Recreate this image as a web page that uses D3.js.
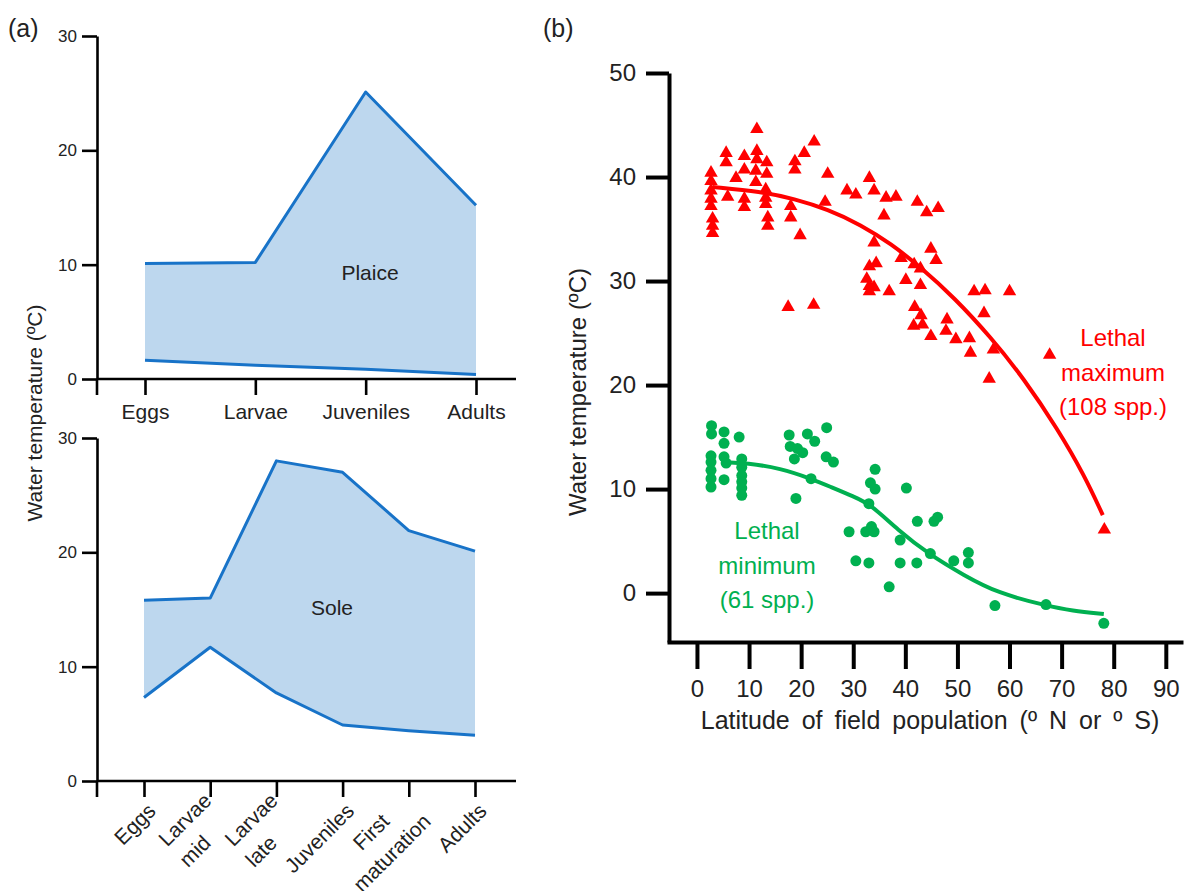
<!DOCTYPE html>
<html>
<head>
<meta charset="utf-8">
<title>Thermal tolerance of fish</title>
<style>
  body { margin: 0; background: #fff; }
  svg { font-family: Arial, "Liberation Sans", sans-serif; }
  text { fill: #222; }
</style>
</head>
<body>
<svg id="fig" width="1190" height="891"></svg>
<script src="https://d3js.org/d3.v7.min.js"></script>
<script>
// ---- panel (a) data: tolerance range per life stage (deg C)
var plaiceStages = ["Eggs", "Larvae", "Juveniles", "Adults"];
var plaiceUpper = [10.1, 10.2, 25.1, 15.2];
var plaiceLower = [1.65, 1.2, 0.85, 0.4];

var soleStages = ["Eggs", "Larvae mid", "Larvae late", "Juveniles", "First maturation", "Adults"];
var soleUpper = [15.8, 16.0, 28.0, 27.0, 21.9, 20.1];
var soleLower = [7.3, 11.7, 7.7, 4.9, 4.4, 4.0];

var tempTicksA = [0, 10, 20, 30];

// ---- panel (b) data: [latitude, temperature]
var maxPoints = [
  [11.5,44.6],[22.5,43.4],[20.6,42.3],[18.8,41.5],[18.8,40.7],[5.6,42.3],[5.6,41.4],[9.1,42.0],
  [11.5,42.5],[11.5,41.7],[13.4,41.4],[13.4,40.3],[9.1,40.7],[7.5,39.9],[11.3,40.6],[11.3,39.5],
  [2.7,40.4],[2.7,39.6],[2.7,38.7],[2.7,37.9],[2.7,37.2],[3.0,36.0],[3.0,35.3],[3.0,34.6],
  [5.9,38.1],[9.1,37.9],[9.1,37.1],[13.2,38.8],[13.2,38.0],[13.2,37.4],[13.6,36.1],[13.6,35.3],
  [18.0,37.2],[18.0,36.1],[19.8,34.4],[25.1,40.3],[24.6,37.6],[17.5,27.5],[22.4,27.7],
  [28.8,38.7],[30.5,38.3],[33.1,39.9],[34.0,38.7],[36.3,38.0],[35.9,36.3],[34.0,33.7],[33.1,31.4],
  [34.4,31.7],[32.6,30.2],[33.1,29.5],[34.0,29.4],[36.9,29.0],
  [38.2,38.1],[42.3,37.6],[44.1,36.6],[46.3,37.0],[44.9,33.1],[45.9,32.0],[39.2,32.2],[41.7,31.6],
  [42.9,31.2],[33.1,29.0],[40.1,30.1],[42.9,29.6],[41.8,27.5],[43.0,26.7],[41.6,25.7],[43.3,25.8],
  [44.9,24.7],[48.0,26.3],[47.8,25.2],[49.7,24.4],[52.3,24.5],[52.5,23.1],[53.2,29.0],[55.3,29.1],
  [55.1,26.9],[56.9,23.4],[56.1,20.6],[60.0,29.0],[67.7,22.9],[78.2,6.1]
];
var maxCurve = [
  [3,39.05],[12.3,38.6],[18.7,37.9],[25.1,36.9],[31.5,35.4],[37.2,33.6],[43,31.3],
  [49.4,28.4],[56.4,24.6],[62.8,20.6],[69.2,15.8],[74.4,11.3],[77.9,7.5]
];
var minPoints = [
  [2.8,16.1],[2.8,15.3],[5.2,15.5],[8.1,15.0],[5.2,14.4],[2.7,13.2],[2.7,12.6],[2.7,11.8],
  [2.7,11.0],[2.7,10.2],[5.2,13.1],[5.6,12.5],[5.2,10.9],[8.6,12.9],[8.6,12.1],[8.6,11.3],
  [8.6,10.7],[8.6,10.1],[8.6,9.4],[17.7,15.2],[17.9,14.1],[21.2,15.3],[22.6,14.6],[24.9,15.9],
  [19.3,13.9],[20.3,13.5],[18.7,12.9],[24.8,13.1],[26.2,12.6],[21.9,11.0],[19.0,9.1],
  [34.2,11.9],[33.3,10.6],[34.2,10.0],[33.0,8.6],[40.2,10.1],[29.2,5.9],[32.4,5.9],[33.5,6.4],
  [34.0,5.9],[30.5,3.1],[33.0,2.9],[36.9,0.6],[39.0,5.1],[39.0,2.9],[42.2,2.9],[42.3,6.9],
  [44.8,3.8],[45.5,6.9],[46.2,7.3],[49.3,3.1],[52.1,3.9],[52.1,2.9],[57.2,-1.2],[67.0,-1.1],
  [78.1,-2.9]
];
var minCurve = [
  [4.8,12.6],[9.7,12.5],[16,12.0],[21.9,11.0],[25.7,10.2],[30,9.3],[33.4,8.5],[38.5,6.1],
  [44.6,3.7],[51.3,1.7],[57.7,0.0],[67,-1.2],[72,-1.7],[78.1,-2.0]
];
var latTicks = [0, 10, 20, 30, 40, 50, 60, 70, 80, 90];
var tempTicksB = [0, 10, 20, 30, 40, 50];

var blueLine = "#1873c8", blueFill = "#bdd7ee";
var red = "#ff0000", green = "#00b050";

var svg = d3.select("#fig");

// ---------- panel (a) ----------
function rangePanel(stages, upper, lower, xs, ys, name, nx, ny) {
  var g = svg.append("g");
  var rows = stages.map(function(s, i) { return {stage: s, hi: upper[i], lo: lower[i]}; });

  g.append("path").datum(rows)
    .attr("fill", blueFill)
    .attr("d", d3.area().x(function(d) { return xs(d.stage); })
      .y0(function(d) { return ys(d.lo); })
      .y1(function(d) { return ys(d.hi); }));
  ["hi", "lo"].forEach(function(k) {
    g.append("path").datum(rows)
      .attr("fill", "none").attr("stroke", blueLine).attr("stroke-width", 3)
      .attr("stroke-linejoin", "round")
      .attr("d", d3.line().x(function(d) { return xs(d.stage); })
        .y(function(d) { return ys(d[k]); }));
  });

  g.append("text").attr("x", nx).attr("y", ny).attr("text-anchor", "middle")
    .style("font-size", "21px").text(name);

  var yAx = g.append("g").attr("transform", "translate(97,0)")
    .call(d3.axisLeft(ys).tickValues(tempTicksA).tickSize(15).tickSizeOuter(0).tickPadding(5));
  yAx.selectAll("text").style("font-size", "17px").attr("fill", "#222");

  var xAx = g.append("g").attr("transform", "translate(0," + ys(0) + ")")
    .call(d3.axisBottom(xs).tickSize(16).tickSizeOuter(0).tickPadding(9));
  xAx.select(".domain").attr("d", "M97,0H516");
  xAx.selectAll("text").style("font-size", "21px").attr("fill", "#222");

  // tick below the origin
  g.append("line").attr("x1", 97).attr("x2", 97)
    .attr("y1", ys(0)).attr("y2", ys(0) + 16).attr("stroke", "#000");

  g.selectAll(".domain, .tick line, line").attr("stroke", "#000").attr("stroke-width", 2.6);
  return xAx;
}

var xPlaice = d3.scalePoint().domain(plaiceStages).range([145, 476]);
var yPlaice = d3.scaleLinear().domain([0, 30]).range([379, 36]);
rangePanel(plaiceStages, plaiceUpper, plaiceLower, xPlaice, yPlaice, "Plaice", 370, 280);

var xSole = d3.scalePoint().domain(soleStages).range([144, 475]);
var ySole = d3.scaleLinear().domain([0, 30]).range([781, 438]);
var soleAx = rangePanel(soleStages, soleUpper, soleLower, xSole, ySole, "Sole", 332, 615);

// rotated stage labels for sole; two-word labels wrap onto two lines
soleAx.selectAll(".tick text").remove();
soleAx.selectAll(".tick").each(function(d) {
  var lab = d3.select(this).append("g")
    .attr("transform", "translate(2,21) rotate(-45)")
    .style("font-size", "21px");
  var lines = d.split(" ");
  var n = lines.length;
  var ts = lines.map(function(l, i) {
    return lab.append("text").attr("fill", "#222")
      .attr("dy", (0.7 + (i - (n - 1) / 2) * 1.4) + "em").text(l);
  });
  var w = ts.map(function(t) { return t.node().getComputedTextLength(); });
  var wMax = d3.max(w);
  ts.forEach(function(t, i) {
    if (w[i] === wMax) t.attr("text-anchor", "end").attr("x", 0);
    else if (i > 0) t.attr("text-anchor", "start").attr("x", -wMax);
    else t.attr("text-anchor", "middle").attr("x", -wMax / 2);
  });
});

svg.append("text").attr("transform", "translate(42,413) rotate(-90)")
  .attr("text-anchor", "middle").style("font-size", "21px")
  .text("Water temperature (\u00baC)");
svg.append("text").attr("x", 8).attr("y", 37).style("font-size", "25px").text("(a)");

// ---------- panel (b) ----------
var xLat = d3.scaleLinear().domain([-5.75, 93.3]).range([667, 1183]);
var yTemp = d3.scaleLinear().domain([-4.7, 50]).range([642, 73]);

var gb = svg.append("g");
gb.append("g").attr("transform", "translate(669,0)")
  .call(d3.axisLeft(yTemp).tickValues(tempTicksB).tickSize(23).tickSizeOuter(0).tickPadding(10));
gb.append("g").attr("transform", "translate(0,642)")
  .call(d3.axisBottom(xLat).tickValues(latTicks).tickSize(27).tickSizeOuter(0).tickPadding(11));
gb.selectAll(".domain, .tick line").attr("stroke", "#000").attr("stroke-width", 4);
gb.selectAll(".tick text").style("font-size", "24px").attr("fill", "#222");

var curve = d3.line().curve(d3.curveBasis)
  .x(function(d) { return xLat(d[0]); })
  .y(function(d) { return yTemp(d[1]); });

gb.append("path").datum(maxCurve).attr("d", curve)
  .attr("fill", "none").attr("stroke", red).attr("stroke-width", 4);
gb.append("path").datum(minCurve).attr("d", curve)
  .attr("fill", "none").attr("stroke", green).attr("stroke-width", 4);

gb.selectAll(".tri").data(maxPoints).enter().append("path")
  .attr("class", "tri")
  .attr("d", d3.symbol(d3.symbolTriangle, 78))
  .attr("transform", function(d) { return "translate(" + xLat(d[0]) + "," + yTemp(d[1]) + ")"; })
  .attr("fill", red);

gb.selectAll(".dot").data(minPoints).enter().append("circle")
  .attr("class", "dot")
  .attr("cx", function(d) { return xLat(d[0]); })
  .attr("cy", function(d) { return yTemp(d[1]); })
  .attr("r", 5.5)
  .attr("fill", green);

function note(lines, x, y0, col) {
  lines.forEach(function(l, i) {
    svg.append("text").attr("x", x).attr("y", y0 + i * 34.5)
      .attr("text-anchor", "middle").style("font-size", "24px")
      .style("fill", col).text(l);
  });
}
note(["Lethal", "maximum", "(108 spp.)"], 1113, 346, red);
note(["Lethal", "minimum", "(61 spp.)"], 767, 539, green);

svg.append("text").attr("transform", "translate(586,392) rotate(-90)")
  .attr("text-anchor", "middle").style("font-size", "24px")
  .text("Water temperature  (\u00baC)");
svg.append("text").attr("x", 930).attr("y", 729)
  .attr("text-anchor", "middle").style("font-size", "25px").style("word-spacing", "5px")
  .text("Latitude of field population (\u00ba N or \u00ba S)");
svg.append("text").attr("x", 543).attr("y", 37).style("font-size", "25px").text("(b)");
</script>
</body>
</html>
